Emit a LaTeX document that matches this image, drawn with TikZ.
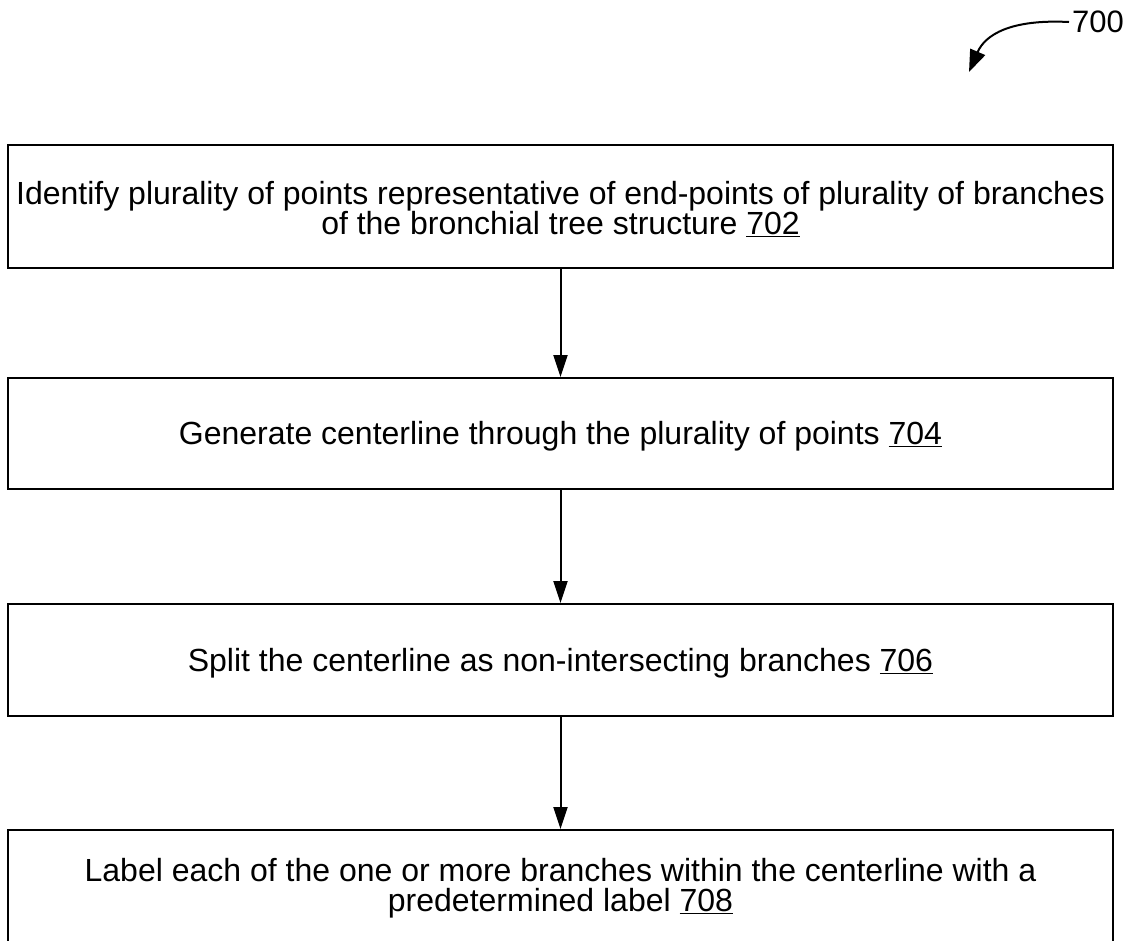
\documentclass[tikz,border=0pt]{standalone}
\usepackage{fontspec}
\setmainfont{Liberation Sans}
\usetikzlibrary{arrows.meta}
\begin{document}
\begin{tikzpicture}[x=1pt,y=-1pt,
  stepbox/.style={draw=black,line width=2pt,minimum width=1105pt,inner sep=0pt},
  steptext/.style={inner sep=0pt,align=center,font=\fontsize{32}{30}\selectfont},
  flow/.style={draw=black,line width=2pt,-{Triangle[width=14pt,length=22pt]}}]
\useasboundingbox (0,0) rectangle (1131,940);
\clip (0,0) rectangle (1131,940);
% process boxes
\node[stepbox,minimum height=123pt] (s702) at (560.5,206.5) {};
\node[stepbox,minimum height=111pt] (s704) at (560.5,433.5) {};
\node[stepbox,minimum height=112pt] (s706) at (560.5,660) {};
\node[stepbox,minimum height=112pt] (s708) at (560.5,886) {};
% box texts, set slightly below the box centres
\node[steptext] (t702) at ([yshift=-2.5pt]s702.center)
  {Identify plurality of points representative of end-points of plurality of branches\\
   of the bronchial tree structure \underline{702}};
\node[steptext] (t704) at ([yshift=-3pt]s704.center)
  {Generate centerline through the plurality of points \underline{704}};
\node[steptext] (t706) at ([yshift=-3pt]s706.center)
  {Split the centerline as non-intersecting branches \underline{706}};
\node[steptext] (t708) at ([yshift=-2.5pt]s708.center)
  {Label each of the one or more branches within the centerline with a\\
   predetermined label \underline{708}};
% connectors
\draw[flow] (s702.south) -- (s704.north);
\draw[flow] (s704.south) -- (s706.north);
\draw[flow] (s706.south) -- (s708.north);
% figure reference
\node[font=\fontsize{31}{32}\selectfont,anchor=west,inner sep=3pt] (ref) at (1069,22) {700};
\coordinate (tip) at (969,72);
\draw[line width=2pt,-{Triangle[width=16pt,length=22pt]}]
  (ref.west) .. controls (1010,19) and (985,35) .. (tip);
\end{tikzpicture}
\end{document}
